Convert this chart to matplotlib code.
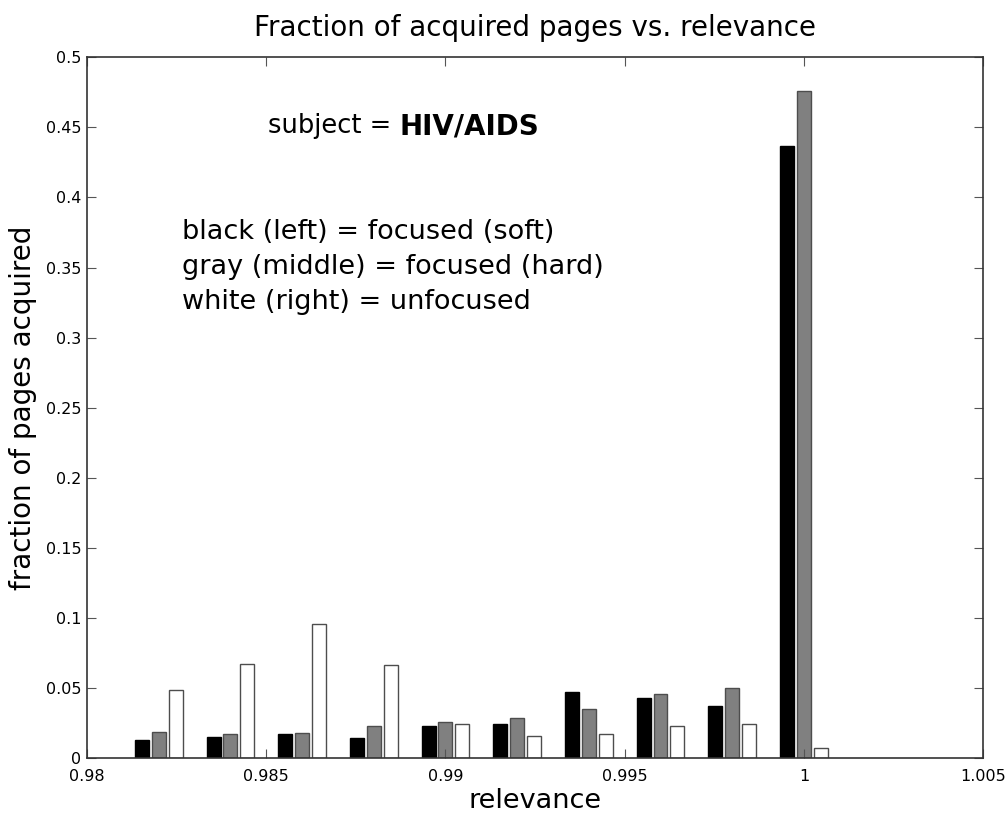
"""
Fraction of acquired pages vs. relevance (HIV/AIDS)
"""

import matplotlib
matplotlib.use("Agg")
import matplotlib.pyplot as plt
import numpy as np

plt.rcParams["font.family"] = ["DejaVu Sans"]

# 数据: 每组中心 (relevance)
relevance = [0.982, 0.984, 0.986, 0.988, 0.990, 0.992, 0.994, 0.996, 0.998, 1.000]
soft = [0.0126, 0.0152, 0.0171, 0.0143, 0.0231, 0.0245, 0.0474, 0.0431, 0.0371, 0.4370]
hard = [0.0186, 0.0174, 0.0179, 0.0231, 0.0257, 0.0288, 0.0352, 0.0460, 0.0502, 0.4760]
unfocused = [0.0488, 0.0671, 0.0957, 0.0662, 0.0245, 0.0158, 0.0174, 0.0226, 0.0245, 0.0071]

xticks = [0.98, 0.985, 0.99, 0.995, 1.0, 1.005]
xticklabels = ["0.98", "0.985", "0.99", "0.995", "1", "1.005"]
yticks = [0, 0.05, 0.1, 0.15, 0.2, 0.25, 0.3, 0.35, 0.4, 0.45, 0.5]
yticklabels = ["0", "0.05", "0.1", "0.15", "0.2", "0.25", "0.3", "0.35", "0.4", "0.45", "0.5"]

fig = plt.figure(figsize=(10.08, 8.19), dpi=100)
ax = fig.add_axes([0.0863, 0.0745, 0.889, 0.8555])

x = np.array(relevance)
w = 0.00039
off = 0.00047
ax.bar(x - off, soft, width=w, color="black", edgecolor="black", linewidth=1)
ax.bar(x, hard, width=w, color="#808080", edgecolor="#4d4d4d", linewidth=1)
ax.bar(x + off, unfocused, width=w, color="white", edgecolor="#4d4d4d", linewidth=1)

ax.set_xlim(0.98, 1.005)
ax.set_ylim(0, 0.5)
ax.set_xticks(xticks)
ax.set_xticklabels(xticklabels)
ax.set_yticks(yticks)
ax.set_yticklabels(yticklabels)
ax.tick_params(direction="in", length=6.5, width=0.8, top=True, right=True,
               labelsize=11.5, colors="#555555", labelcolor="black")
ax.tick_params(axis="x", pad=8)
ax.tick_params(axis="y", pad=4)
for sp in ax.spines.values():
    sp.set_color("#333333")
    sp.set_linewidth(1.2)

ax.set_title("Fraction of acquired pages vs. relevance", fontsize=20, pad=15)
ax.set_xlabel("relevance", fontsize=19.5, labelpad=3)
ax.set_ylabel("fraction of pages acquired", fontsize=20, labelpad=6)

# 注释文字
ax.text(0.98505, 0.4507, "subject =", fontsize=18.5, va="center", ha="left")
ax.text(0.98873, 0.4507, "HIV/AIDS", fontsize=20, fontweight="bold",
        va="center", ha="left")
ax.text(0.98265, 0.375, "black (left) = focused (soft)", fontsize=19.5, va="center")
ax.text(0.98265, 0.3507, "gray (middle) = focused (hard)", fontsize=19.5, va="center")
ax.text(0.98265, 0.3257, "white (right) = unfocused", fontsize=19.5, va="center")

plt.savefig("out.png", dpi=100)
